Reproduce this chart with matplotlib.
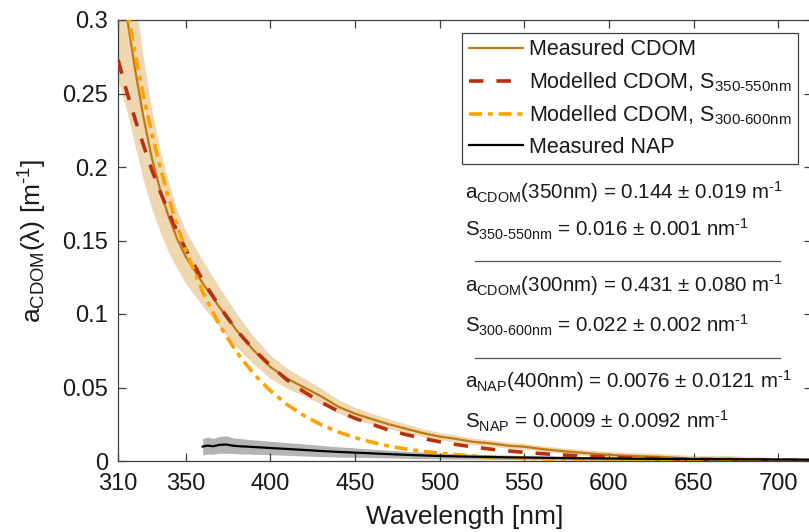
import numpy as np
import matplotlib
matplotlib.use("Agg")
import matplotlib.pyplot as plt
from matplotlib.lines import Line2D

plt.rcParams['font.family'] = ['Liberation Sans', 'DejaVu Sans']
plt.rcParams['mathtext.fontset'] = 'custom'
plt.rcParams['mathtext.rm'] = 'Liberation Sans'
plt.rcParams['mathtext.it'] = 'Liberation Sans:italic'
plt.rcParams['mathtext.bf'] = 'Liberation Sans:bold'

# ---------------- data ----------------
wl = [310, 315, 320, 325, 330, 335, 340, 345, 350, 360, 370, 380, 390, 400,
      410, 420, 430, 440, 450, 460, 470, 480, 490, 500, 510, 520, 530, 540,
      550, 560, 570, 580, 590, 600, 610, 620, 630, 640, 650, 660, 670, 680,
      690, 700, 710, 720]

cdom_meas = [0.345, 0.304, 0.267, 0.234, 0.206, 0.184, 0.166, 0.151, 0.139,
             0.121, 0.1045, 0.089, 0.0755, 0.064, 0.056, 0.050, 0.044, 0.037,
             0.0322, 0.0285, 0.025, 0.022, 0.019, 0.0166, 0.015, 0.013, 0.012,
             0.0105, 0.0097, 0.0082, 0.007, 0.006, 0.005, 0.0042, 0.0036,
             0.0032, 0.0028, 0.0022, 0.0016, 0.0015, 0.0016, 0.0012, 0.0009,
             0.0006, 0.0005, 0.0004]

cdom_err = [0.085, 0.064, 0.051, 0.042, 0.034, 0.028, 0.024, 0.020, 0.018,
            0.0155, 0.0135, 0.0115, 0.0095, 0.0080, 0.0068, 0.0060, 0.0053,
            0.0046, 0.0041, 0.0037, 0.0033, 0.0030, 0.0027, 0.0025, 0.0023,
            0.0022, 0.0021, 0.0020, 0.0020, 0.0019, 0.0019, 0.0019, 0.0019,
            0.0019, 0.0020, 0.0020, 0.0020, 0.0019, 0.0018, 0.0018, 0.0018,
            0.0017, 0.0016, 0.0015, 0.0015, 0.0015]

cdom_mod_350_550 = [0.273, 0.252, 0.233, 0.215, 0.198, 0.183, 0.169, 0.156,
                    0.144, 0.123, 0.105, 0.089, 0.076, 0.065, 0.055, 0.047,
                    0.040, 0.034, 0.029, 0.025, 0.021, 0.018, 0.0154, 0.0131,
                    0.0112, 0.0095, 0.0081, 0.0069, 0.0059, 0.0050, 0.0043,
                    0.0036, 0.0031, 0.0026, 0.0022, 0.0019, 0.0016, 0.0014,
                    0.0012, 0.0010, 0.0009, 0.0007, 0.0006, 0.0005, 0.0005,
                    0.0004]

cdom_mod_300_600 = [0.346, 0.310, 0.2776, 0.2487, 0.2228, 0.1996, 0.1788,
                    0.1601, 0.1435, 0.1152, 0.0924, 0.0742, 0.0595, 0.0478,
                    0.0383, 0.0308, 0.0247, 0.0198, 0.0159, 0.0128, 0.0102,
                    0.0082, 0.0066, 0.0053, 0.0043, 0.0034, 0.0027, 0.0022,
                    0.0018, 0.0014, 0.0011, 0.0009, 0.0007, 0.0006, 0.0005,
                    0.0004, 0.0003, 0.0003, 0.0002, 0.0002, 0.0001, 0.0001,
                    0.0001, 0.0001, 0.0001, 0.0001]

nap_wl = [360, 363, 366, 370, 374, 378, 382, 386, 390, 395, 400, 410, 420,
          430, 440, 450, 460, 470, 480, 490, 500, 520, 540, 560, 580, 600,
          620, 640, 660, 680, 700, 720]
nap = [0.0098, 0.0105, 0.0100, 0.0110, 0.0112, 0.0104, 0.0100, 0.0098,
       0.0095, 0.0092, 0.0088, 0.0082, 0.0075, 0.0068, 0.0062, 0.0057,
       0.0052, 0.0047, 0.0042, 0.0038, 0.0034, 0.0029, 0.0025, 0.0022,
       0.0019, 0.0017, 0.0015, 0.0013, 0.0012, 0.0011, 0.0010, 0.0009]
nap_err = [0.0055, 0.0058, 0.0054, 0.0057, 0.0060, 0.0052, 0.0053, 0.0050,
           0.0049, 0.0047, 0.0046, 0.0043, 0.0041, 0.0038, 0.0035, 0.0032,
           0.0029, 0.0026, 0.0024, 0.0022, 0.0020, 0.0017, 0.0015, 0.0013,
           0.0012, 0.0012, 0.0011, 0.0011, 0.0010, 0.0010, 0.0010, 0.0010]

xticks = [310, 350, 400, 450, 500, 550, 600, 650, 700]
yticks = [0, 0.05, 0.1, 0.15, 0.2, 0.25, 0.3]
yticklabels = ['0', '0.05', '0.1', '0.15', '0.2', '0.25', '0.3']

legend_labels = ['Measured CDOM',
                 'Modelled CDOM, S$_{\\mathrm{350\\text{-}550nm}}$',
                 'Modelled CDOM, S$_{\\mathrm{300\\text{-}600nm}}$',
                 'Measured NAP']

SUP = '$^{\\text{-}1}$'
annot_lines = [
    'a$_{\\mathrm{CDOM}}$(350nm) = 0.144 ± 0.019 m' + SUP,
    'S$_{\\mathrm{350\\text{-}550nm}}$ = 0.016 ± 0.001 nm' + SUP,
    'a$_{\\mathrm{CDOM}}$(300nm) = 0.431 ± 0.080 m' + SUP,
    'S$_{\\mathrm{300\\text{-}600nm}}$ = 0.022 ± 0.002 nm' + SUP,
    'a$_{\\mathrm{NAP}}$(400nm) = 0.0076 ± 0.0121 m' + SUP,
    'S$_{\\mathrm{NAP}}$ = 0.0009 ± 0.0092 nm' + SUP,
]

# ---------------- figure ----------------
W, H = 809, 532
fig = plt.figure(figsize=(W / 100, H / 100), dpi=100)
ax = fig.add_axes([118 / W, (H - 461) / H, (812 - 118) / W, 441 / H])

c_brown = '#BD7A12'
c_red = '#B8300E'
c_orange = '#FFA200'
c_band = '#EFD7B2'
c_gray = '#B4B4B4'

w = np.array(wl)
m = np.array(cdom_meas)
e = np.array(cdom_err)
ax.fill_between(w, m - e, m + e, color=c_band, lw=0, zorder=1)

nw = np.array(nap_wl)
nv = np.array(nap)
ne = np.array(nap_err)
ax.fill_between(nw, nv - ne, nv + ne, color=c_gray, lw=0, zorder=1)

l1, = ax.plot(wl, cdom_meas, color=c_brown, lw=1.6, zorder=3)
l2, = ax.plot(wl, cdom_mod_350_550, color=c_red, lw=2.6,
              linestyle=(0, (4.0, 3.6)), zorder=4)
l3, = ax.plot(wl, cdom_mod_300_600, color=c_orange, lw=2.6,
              linestyle=(0, (3.6, 1.6, 1.4, 1.6)), zorder=4)
l4, = ax.plot(nap_wl, nap, color='black', lw=1.6, zorder=5)

ax.set_xlim(310, 720)
ax.set_ylim(0, 0.3)
ax.set_xticks(xticks)
ax.set_yticks(yticks)
ax.set_yticklabels(yticklabels)

axc = '#404040'
for s in ax.spines.values():
    s.set_color(axc)
    s.set_linewidth(0.9)
ax.tick_params(direction='in', length=6, width=0.9, color=axc,
               top=True, right=True, labelsize=17, labelcolor='#1a1a1a')
ax.tick_params(axis='x', pad=9)
ax.tick_params(axis='y', pad=7)

ax.set_xlabel('Wavelength [nm]', fontsize=19, color='#1a1a1a', labelpad=7)
ax.set_ylabel('a$_{\\mathrm{CDOM}}$(λ) [m' + SUP + ']', fontsize=19,
              color='#1a1a1a', labelpad=10)

leg = ax.legend([l1, l2, l3, l4], legend_labels, loc='upper right',
                bbox_to_anchor=(798 / W, 1 - 33 / H),
                bbox_transform=fig.transFigure, borderaxespad=0,
                fontsize=15.5, frameon=True, fancybox=False, framealpha=1,
                edgecolor=axc, handlelength=2.5, handletextpad=0.3,
                labelspacing=0.45, borderpad=0.3)
leg.get_frame().set_linewidth(0.9)
for t in leg.get_texts():
    t.set_color('#1a1a1a')

baselines = [199, 237, 292, 333, 388, 428]
for txt, yb in zip(annot_lines, baselines):
    fig.text(465 / W, 1 - yb / H, txt, fontsize=14.8, va='baseline',
             ha='left', color='#1a1a1a')

for yl in [261, 358]:
    fig.add_artist(Line2D([475 / W, 780 / W], [1 - yl / H, 1 - yl / H],
                          transform=fig.transFigure, color='#555555', lw=0.9))

fig.savefig('out.png', dpi=100)
